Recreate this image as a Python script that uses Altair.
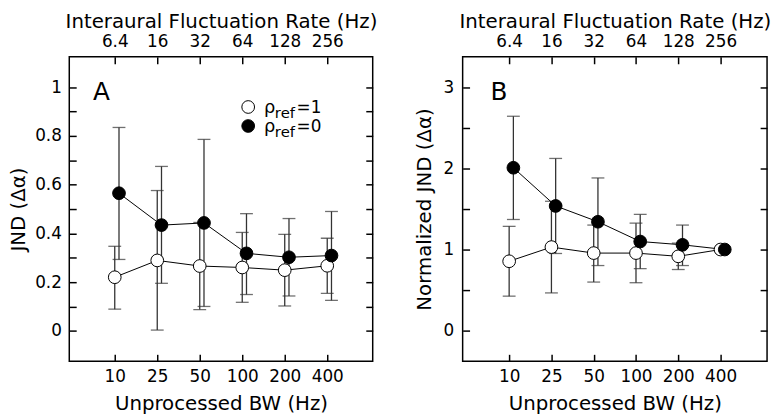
import altair as alt
import pandas as pd

# ---------------- data ----------------
bw_labels = ['10', '25', '50', '100', '200', '400']
rate_labels = ['6.4', '16', '32', '64', '128', '256']
positions = [0, 1, 2, 3, 4, 5]
filled_dodge = 0.1

# Panel A: JND (Δα)
a_open_mean = [0.220, 0.289, 0.266, 0.260, 0.249, 0.267]
a_open_lo = [0.089, 0.003, 0.087, 0.117, 0.102, 0.154]
a_open_hi = [0.347, 0.576, 0.445, 0.404, 0.396, 0.380]
a_fill_mean = [0.565, 0.434, 0.443, 0.318, 0.302, 0.309]
a_fill_lo = [0.293, 0.195, 0.100, 0.149, 0.143, 0.125]
a_fill_hi = [0.835, 0.675, 0.786, 0.481, 0.461, 0.490]

# Panel B: normalized JND (Δα)
b_open_mean = [0.855, 1.030, 0.956, 0.956, 0.916, 1.000]
b_open_lo = [0.424, 0.464, 0.598, 0.590, 0.753, None]
b_open_hi = [1.286, 1.596, 1.302, 1.326, 1.079, None]
b_fill_mean = [2.010, 1.538, 1.343, 1.099, 1.058, 1.000]
b_fill_lo = [1.371, 0.951, 0.802, 0.764, 0.802, None]
b_fill_hi = [2.646, 2.125, 1.884, 1.434, 1.302, None]

a_yticks = [0, 0.1, 0.2, 0.3, 0.4, 0.5, 0.6, 0.7, 0.8, 0.9, 1.0]
b_yticks = [0, 0.5, 1, 1.5, 2, 2.5, 3]

FONT = 'DejaVu Sans'
LBL = 17
TTL = 20
ERR = '#333333'


def build_df(om, olo, ohi, fm, flo, fhi):
    rows = []
    for i, p in enumerate(positions):
        rows.append(dict(x=p, series='open', m=om[i], lo=olo[i], hi=ohi[i]))
        rows.append(dict(x=p + filled_dodge, series='filled', m=fm[i], lo=flo[i], hi=fhi[i]))
    return pd.DataFrame(rows)


def make_panel(df, xdomain, ydomain, yticks, ylabel_expr, ytitle, letter, letter_x,
               letter_y, width, height, y_label_pad, y_title_pad, legend=None):
    xs = alt.Scale(domain=xdomain, nice=False, zero=False)
    ys = alt.Scale(domain=ydomain, nice=False, zero=False)

    ax_bottom = alt.Axis(orient='bottom', values=positions,
                         labelExpr="['10','25','50','100','200','400'][datum.value]",
                         title='Unprocessed BW (Hz)', offset=-7, tickSize=7,
                         domain=False, grid=False, labelPadding=7, titlePadding=10)
    ax_top = alt.Axis(orient='top', values=positions,
                      labelExpr="['6.4','16','32','64','128','256'][datum.value]",
                      title='Interaural Fluctuation Rate (Hz)', offset=-7, tickSize=7,
                      domain=False, grid=False, labelPadding=6, titlePadding=2)
    ax_left = alt.Axis(orient='left', values=yticks, labelExpr=ylabel_expr,
                       title=ytitle, offset=-7, tickSize=7, domain=False, grid=False,
                       labelPadding=y_label_pad, titlePadding=y_title_pad)
    ax_right = alt.Axis(orient='right', values=yticks, labels=False, title=None,
                        offset=-7, tickSize=7, domain=False, grid=False)

    base = alt.Chart(df)
    err = base.transform_filter('isValid(datum.lo)')

    rules = err.mark_rule(color=ERR, strokeWidth=1.3).encode(
        x=alt.X('x:Q', scale=xs, axis=ax_bottom),
        y=alt.Y('lo:Q', scale=ys, axis=ax_left),
        y2='hi:Q')
    caps_lo = err.mark_tick(color=ERR, orient='horizontal', size=13, thickness=1.3).encode(
        x=alt.X('x:Q', scale=xs, axis=ax_top),
        y=alt.Y('lo:Q', scale=ys, axis=ax_right))
    caps_hi = err.mark_tick(color=ERR, orient='horizontal', size=13, thickness=1.3).encode(
        x=alt.X('x:Q', scale=xs, axis=None),
        y=alt.Y('hi:Q', scale=ys, axis=None))

    lines = base.mark_line(color='black', strokeWidth=1).encode(
        x=alt.X('x:Q', scale=xs, axis=None),
        y=alt.Y('m:Q', scale=ys, axis=None),
        detail='series:N')

    open_pts = base.transform_filter("datum.series == 'open'").mark_point(
        shape='circle', filled=True, fill='white', stroke='black', strokeWidth=1,
        size=165, opacity=1).encode(
        x=alt.X('x:Q', scale=xs, axis=None),
        y=alt.Y('m:Q', scale=ys, axis=None))
    fill_pts = base.transform_filter("datum.series == 'filled'").mark_point(
        shape='circle', filled=True, fill='black', stroke='black', strokeWidth=1,
        size=165, opacity=1).encode(
        x=alt.X('x:Q', scale=xs, axis=None),
        y=alt.Y('m:Q', scale=ys, axis=None))

    letter_df = pd.DataFrame({'x': [letter_x], 'y': [letter_y], 't': [letter]})
    letter_txt = alt.Chart(letter_df).mark_text(
        font=FONT, fontSize=25, align='left', baseline='alphabetic', color='black').encode(
        x=alt.X('x:Q', scale=xs, axis=None),
        y=alt.Y('y:Q', scale=ys, axis=None),
        text='t:N')

    layers = [rules, caps_lo, caps_hi, lines, open_pts, fill_pts, letter_txt]

    if legend is not None:
        leg = pd.DataFrame(legend)
        leg_open = alt.Chart(leg).transform_filter("datum.fill == 'white'").mark_point(
            shape='circle', filled=True, fill='white', stroke='black', strokeWidth=1,
            size=165, opacity=1).encode(
            x=alt.X('x:Q', scale=xs, axis=None), y=alt.Y('y:Q', scale=ys, axis=None))
        leg_fill = alt.Chart(leg).transform_filter("datum.fill == 'black'").mark_point(
            shape='circle', filled=True, fill='black', stroke='black', strokeWidth=1,
            size=165, opacity=1).encode(
            x=alt.X('x:Q', scale=xs, axis=None), y=alt.Y('y:Q', scale=ys, axis=None))
        rho = alt.Chart(leg).mark_text(font=FONT, fontSize=18, align='left',
                                       baseline='alphabetic', dx=16, dy=6,
                                       color='black').encode(
            x=alt.X('x:Q', scale=xs, axis=None), y=alt.Y('y:Q', scale=ys, axis=None),
            text=alt.value('ρ'))
        sub = alt.Chart(leg).mark_text(font=FONT, fontSize=15, align='left',
                                       baseline='alphabetic', dx=27, dy=11,
                                       color='black').encode(
            x=alt.X('x:Q', scale=xs, axis=None), y=alt.Y('y:Q', scale=ys, axis=None),
            text=alt.value('ref'))
        eq = alt.Chart(leg).mark_text(font=FONT, fontSize=17, align='left',
                                      baseline='alphabetic', dx=49, dy=6,
                                      color='black').encode(
            x=alt.X('x:Q', scale=xs, axis=None), y=alt.Y('y:Q', scale=ys, axis=None),
            text='val:N')
        layers += [leg_open, leg_fill, rho, sub, eq]

    return alt.layer(*layers).properties(width=width, height=height)


df_a = build_df(a_open_mean, a_open_lo, a_open_hi, a_fill_mean, a_fill_lo, a_fill_hi)
df_b = build_df(b_open_mean, b_open_lo, b_open_hi, b_fill_mean, b_fill_lo, b_fill_hi)

legend_a = {'x': [3.14, 3.14], 'y': [0.919, 0.841], 'fill': ['white', 'black'],
            'val': ['=1', '=0']}

panel_a = make_panel(
    df_a, [-1.07, 6.07], [-0.125, 1.125], a_yticks,
    "round(datum.value*10) % 2 == 0 ? format(datum.value, '~g') : ''",
    'JND (Δα)', 'A', -0.51, 0.947, 307, 308, 8, 6, legend=legend_a)

panel_b = make_panel(
    df_b, [-1.1, 6.1], [-0.38, 3.38], b_yticks,
    "datum.value % 1 == 0 ? format(datum.value, 'd') : ''",
    'Normalized JND (Δα)', 'B', -0.44, 2.845, 308, 308, 9, 9)

chart = alt.hconcat(panel_a, panel_b, spacing=35).properties(
    padding={'left': 0, 'top': 0, 'right': 0, 'bottom': 0},
    background='white'
).configure_view(
    stroke='black', strokeWidth=1.5
).configure_axis(
    labelFont=FONT, labelFontSize=LBL, labelColor='black',
    titleFont=FONT, titleFontSize=TTL, titleFontWeight='normal', titleColor='black',
    tickColor='black', tickWidth=1.5, minExtent=0
)

chart.save('out.html', embed_options={'renderer': 'svg', 'actions': False})
